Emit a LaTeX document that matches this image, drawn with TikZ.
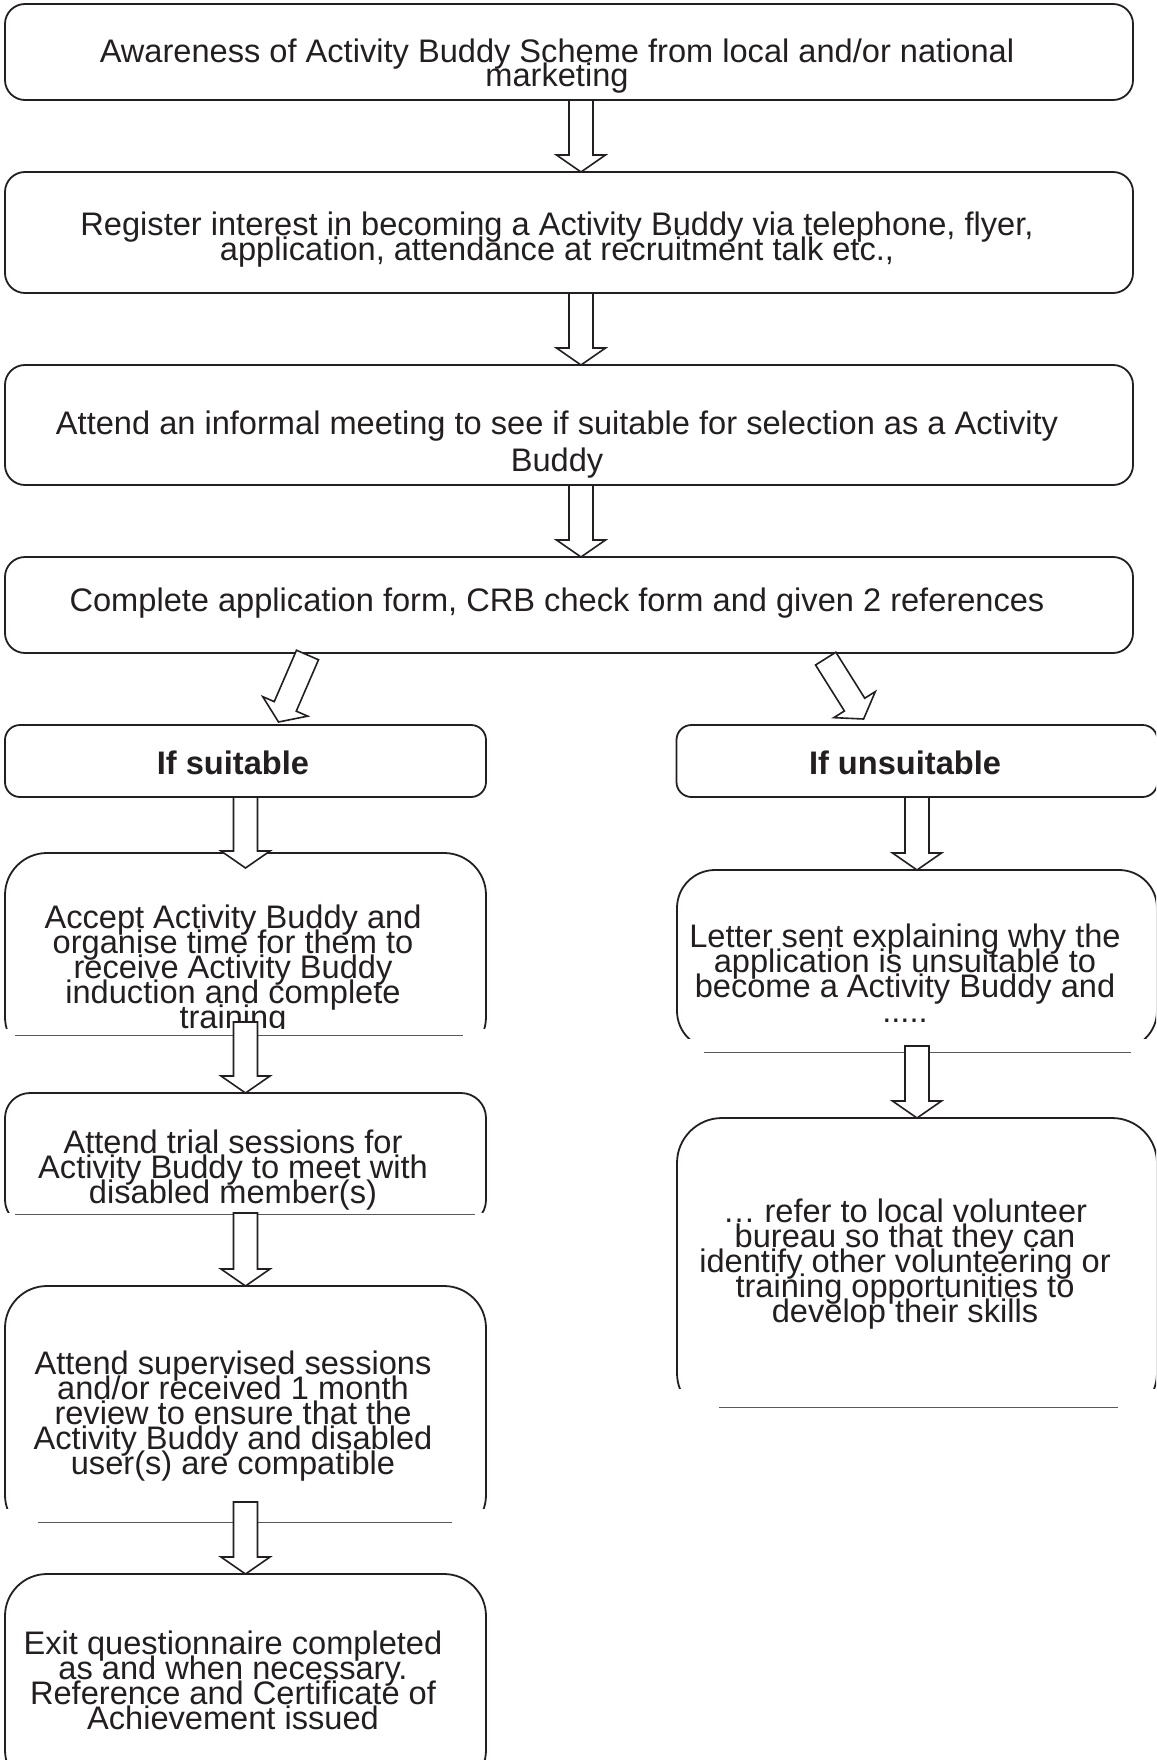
\documentclass[tikz,border=0pt]{standalone}
\usepackage{fontspec}
\setmainfont{Liberation Sans}
\usetikzlibrary{calc}

\definecolor{ink}{HTML}{231F20}

% hollow block arrow from #1 to #2
\newcommand{\blockarrow}[2]{%
  \coordinate (ba-h) at ($(#2)!8.5pt!(#1)$);
  \draw[barrow] ($(#1)!6pt!90:(#2)$) -- ($(ba-h)!6pt!90:(#2)$)
    -- ($(ba-h)!12.25pt!90:(#2)$) -- (#2) -- ($(ba-h)!12.25pt!-90:(#2)$)
    -- ($(ba-h)!6pt!-90:(#2)$) -- ($(#1)!6pt!-90:(#2)$) -- cycle;}

\begin{document}
\lineskiplimit=-30pt\relax
\begin{tikzpicture}[
  x=0.5pt, y=-0.5pt,
  frame/.style={draw=ink, line width=0.9pt, inner sep=0pt, outer sep=0pt},
  mainbox/.style={frame, minimum width=564pt, rounded corners=10pt},
  sidebox/.style={frame, minimum width=240.5pt},
  txt/.style={text=ink, align=center, inner sep=0pt, font=\fontsize{16.3}{12.5}\selectfont},
  barrow/.style={draw=ink, fill=white, line width=0.8pt, line join=miter},
  cutline/.style={draw=black!65, line width=0.5pt}
]
  \clip (0,0) rectangle (1156,1760);
  \fill[white] (0,0) rectangle (1156,1760);

  % main column
  \node[mainbox, minimum height=48pt] (aware) at (569,52) {};
  \node[txt, font=\fontsize{16.3}{12}\selectfont] (awareT) at (557,66)
    {Awareness of Activity Buddy Scheme from local and/or national\\marketing};
  \node[mainbox, minimum height=60.5pt] (register) at (569,232.5) {};
  \node[txt] (registerT) at (557,240)
    {Register interest in becoming a Activity Buddy via telephone, flyer,\\application, attendance at recruitment talk etc.,};
  \node[mainbox, minimum height=60pt] (meeting) at (569,425) {};
  \node[txt, font=\fontsize{16.3}{18.5}\selectfont] (meetingT) at (557,445)
    {Attend an informal meeting to see if suitable for selection as a Activity\\Buddy};
  \node[mainbox, minimum height=48pt] (complete) at (569,605) {};
  \node[txt] (completeT) at (557,603)
    {Complete application form, CRB check form and given 2 references};

  % branches
  \node[sidebox, minimum height=36pt, rounded corners=7.5pt] (suit) at (245.5,761) {};
  \node[txt, font=\bfseries\fontsize{16.3}{12.5}\selectfont] (suitT) at (233,763) {If suitable};
  \node[sidebox, minimum height=36pt, rounded corners=7.5pt] (unsuit) at (917,761) {};
  \node[txt, font=\bfseries\fontsize{16.3}{12.5}\selectfont] (unsuitT) at (905,763) {If unsuitable};

  % left column
  \begin{scope}
    \clip (0,840) rectangle (1156,1028);
    \node[sidebox, anchor=north, minimum height=103pt, rounded corners=21pt] (accept) at (245.5,853) {};
    \node[txt] (acceptT) at (233,970)
      {Accept Activity Buddy and\\organise time for them to\\receive Activity Buddy\\induction and complete\\training};
  \end{scope}
  \draw[cutline] (15,1035) -- (463,1035);

  \begin{scope}
    \clip (0,1080) rectangle (1156,1212);
    \node[sidebox, anchor=north, minimum height=66pt, rounded corners=12.5pt] (trial) at (245.5,1093) {};
  \end{scope}
  \node[txt] (trialT) at (233,1170)
    {Attend trial sessions for\\Activity Buddy to meet with\\disabled member(s)};
  \draw[cutline] (15,1214) -- (475,1214);

  \begin{scope}
    \clip (0,1270) rectangle (1156,1508);
    \node[sidebox, anchor=north, minimum height=125.5pt, rounded corners=21pt] (superv) at (245.5,1286) {};
  \end{scope}
  \node[txt] (supervT) at (233,1416)
    {Attend supervised sessions\\and/or received 1 month\\review to ensure that the\\Activity Buddy and disabled\\user(s) are compatible};
  \draw[cutline] (38,1522) -- (452,1522);

  \node[sidebox, anchor=north, minimum height=109pt, rounded corners=21pt] (exitq) at (245.5,1574) {};
  \node[txt] (exitqT) at (233,1680)
    {Exit questionnaire completed\\as and when necessary.\\Reference and Certificate of\\Achievement issued};

  % right column
  \begin{scope}
    \clip (0,860) rectangle (1156,1038);
    \node[sidebox, anchor=north, minimum width=240pt, minimum height=89.5pt, rounded corners=19pt] (letter) at (917,870) {};
  \end{scope}
  \node[txt] (letterT) at (905,973)
    {Letter sent explaining why the\\application is unsuitable to\\become a Activity Buddy and\\.....};
  \draw[cutline] (704,1052) -- (1131,1052);

  \begin{scope}
    \clip (0,1105) rectangle (1156,1388);
    \node[sidebox, anchor=north, minimum width=240pt, minimum height=150pt, rounded corners=22.5pt] (refer) at (917,1118) {};
  \end{scope}
  \node[txt] (referT) at (905,1264)
    {… refer to local volunteer\\bureau so that they can\\identify other volunteering or\\training opportunities to\\develop their skills};
  \draw[cutline] (719,1407) -- (1118,1407);

  % arrows
  \blockarrow{$(aware.south)+(12,0)$}{$(register.north)+(12,0)$}
  \blockarrow{$(register.south)+(12,0)$}{$(meeting.north)+(12,0)$}
  \blockarrow{$(meeting.south)+(12,0)$}{$(complete.north)+(12,0)$}
  \blockarrow{$(complete.south)+(-261.5,2)$}{$(suit.north)+(33,-3)$}
  \blockarrow{$(complete.south)+(256.7,5.6)$}{$(unsuit.north)+(-53.4,-6)$}
  \blockarrow{suit.south}{$(accept.north)+(0,15)$}
  \blockarrow{$(accept.south)+(0,-37)$}{trial.north}
  \blockarrow{$(trial.south)+(0,-12)$}{superv.north}
  \blockarrow{$(superv.south)+(0,-35)$}{exitq.north}
  \blockarrow{unsuit.south}{letter.north}
  \blockarrow{$(letter.south)+(0,-3)$}{refer.north}
\end{tikzpicture}
\end{document}
